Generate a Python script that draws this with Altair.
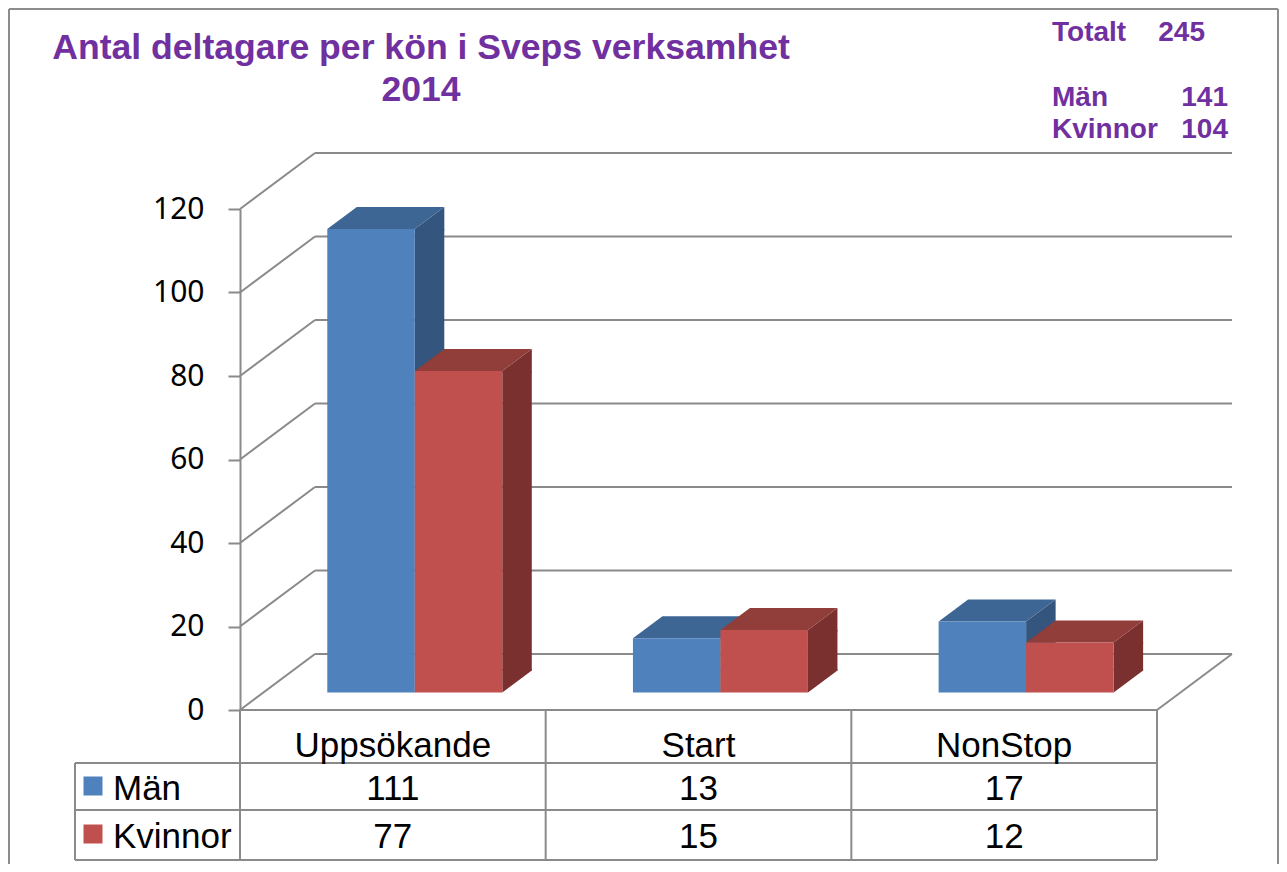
import altair as alt
import pandas as pd

# ---------------- data ----------------
categories = ["Uppsökande", "Start", "NonStop"]
series = ["Män", "Kvinnor"]
man_values = [111, 13, 17]
kvinnor_values = [77, 15, 12]
y_ticks = [0, 20, 40, 60, 80, 100, 120]
title_lines = ["Antal deltagare per kön i Sveps verksamhet", "2014"]
summary_labels = ["Totalt", "Män", "Kvinnor"]
summary_values = [245, 141, 104]

# ---------------- styles / layout ----------------
W, H = 917, 501
PAD_L, PAD_T = 232, 201
PAD_R = 1271 - PAD_L - W
PAD_B = 856 - PAD_T - H

FRONT = {"Män": "#4F81BD", "Kvinnor": "#C0504D"}
TOP = {"Män": "#3E6695", "Kvinnor": "#913D3A"}
SIDE = {"Män": "#33557E", "Kvinnor": "#7A302E"}
GRID = "#8a8a8a"
PURPLE = "#7030A0"

BAR_W = 87.5
BAR_DY = -17.5                     # bars sit inside the depth
DEPTH_X, DEPTH_Y = 29.5, -22       # bar depth (3D)
WALL_X, WALL_Y = 75, -56           # back wall offset
HALF = BAR_W / 2
CENTER_OFF = {"Män": -21.8, "Kvinnor": -21.8 + BAR_W}   # bar centre vs band centre

rows = []
for c, m, k in zip(categories, man_values, kvinnor_values):
    rows.append({"cat": c, "ser": "Män", "value": m, "zero": 0})
    rows.append({"cat": c, "ser": "Kvinnor", "value": k, "zero": 0})
df = pd.DataFrame(rows)
ticks_df = pd.DataFrame({"v": y_ticks})
zero_df = pd.DataFrame({"v": [0]})
one = alt.Data(values=[{}])

x_scale = alt.Scale(type="band", domain=categories, paddingInner=0, paddingOuter=0)
y_scale = alt.Scale(domain=[0, 120], nice=False, zero=True)
y_axis = alt.Axis(values=y_ticks, title=None, grid=False,
                  domainColor=GRID, domainWidth=2, tickColor=GRID, tickWidth=2,
                  tickSize=12, labelPadding=24, labelFont="Noto Sans",
                  labelFontSize=30, labelColor="#000000")

X = alt.X("cat:N", scale=x_scale, axis=None)


def Yv(field):
    return alt.Y(field, scale=y_scale, axis=y_axis, stack=None)


def hline(x1, x2, y, w=2, color=GRID):
    return alt.Chart(one).mark_rule(color=color, strokeWidth=w).encode(
        x=alt.value(x1), x2=alt.value(x2), y=alt.value(y))


def vline(x, y1, y2, w=2, color=GRID):
    return alt.Chart(one).mark_rule(color=color, strokeWidth=w).encode(
        x=alt.value(x), y=alt.value(y1), y2=alt.value(y2))


def sdata(s):
    return alt.Chart(df).transform_filter(alt.datum.ser == s)


layers = []

# back wall gridlines
layers.append(alt.Chart(ticks_df).mark_rule(color=GRID, strokeWidth=2, yOffset=WALL_Y).encode(
    x=alt.value(WALL_X), x2=alt.value(W + WALL_X), y=Yv("v:Q")))
# side wall diagonals
layers.append(alt.Chart(ticks_df).mark_rule(color=GRID, strokeWidth=2, y2Offset=WALL_Y).encode(
    x=alt.value(0), x2=alt.value(WALL_X), y=Yv("v:Q"), y2=alt.Y2("v")))
# floor right edge
layers.append(alt.Chart(zero_df).mark_rule(color=GRID, strokeWidth=2, y2Offset=WALL_Y).encode(
    x=alt.value(W), x2=alt.value(W + WALL_X), y=Yv("v:Q"), y2=alt.Y2("v")))

# fixed-size 3D caps (shapes in px, size=4 -> unit scale)
bottom_tri = (f"M{HALF},{DEPTH_Y - 1.5}L{HALF},0L{HALF + DEPTH_X},{DEPTH_Y}"
              f"L{HALF + DEPTH_X},{DEPTH_Y - 1.5}Z")
top_tri = f"M{HALF},1.5L{HALF},0L{HALF + DEPTH_X},{DEPTH_Y}L{HALF + DEPTH_X},1.5Z"
top_face = f"M{-HALF},0L{HALF},0L{HALF + DEPTH_X},{DEPTH_Y}L{-HALF + DEPTH_X},{DEPTH_Y}Z"

# 3D bars: side faces
for s in series:
    co = CENTER_OFF[s]
    layers.append(sdata(s).mark_bar(width=DEPTH_X, xOffset=co + HALF + DEPTH_X / 2,
                                    yOffset=BAR_DY, y2Offset=BAR_DY + DEPTH_Y,
                                    color=SIDE[s]).encode(
        x=X, y=Yv("value:Q"), y2=alt.Y2("zero")))
    layers.append(sdata(s).mark_point(shape=bottom_tri, size=4, filled=True, opacity=1,
                                      strokeWidth=0, xOffset=co, yOffset=BAR_DY,
                                      color=SIDE[s]).encode(
        x=X, y=Yv("zero:Q")))
    layers.append(sdata(s).mark_point(shape=top_tri, size=4, filled=True, opacity=1,
                                      strokeWidth=0, xOffset=co, yOffset=BAR_DY,
                                      color=SIDE[s]).encode(
        x=X, y=Yv("value:Q")))
# top faces
for s in series:
    co = CENTER_OFF[s]
    layers.append(sdata(s).mark_point(shape=top_face, size=4, filled=True, opacity=1,
                                      strokeWidth=0.6, xOffset=co, yOffset=BAR_DY,
                                      color=TOP[s]).encode(
        x=X, y=Yv("value:Q")))
# front faces
for s in series:
    co = CENTER_OFF[s]
    layers.append(sdata(s).mark_bar(width=BAR_W, xOffset=co, yOffset=BAR_DY,
                                    y2Offset=BAR_DY, color=FRONT[s]).encode(
        x=X, y=Yv("value:Q"), y2=alt.Y2("zero")))

# floor front edge / table top
layers.append(hline(0, W, H))

# data table grid
ROW1, ROW2, ROW3 = 554, 601, 651
band = W / 3
for i in range(4):
    layers.append(vline(i * band, H, ROW3))
layers.append(vline(-165, ROW1, ROW3))
for yy in (ROW1, ROW2, ROW3):
    layers.append(hline(-165, W, yy))

TABLE_FONT = "Liberation Sans"
# category labels
cat_df = pd.DataFrame({"cat": categories})
layers.append(alt.Chart(cat_df).mark_text(font=TABLE_FONT, fontSize=35, color="#000000",
                                          baseline="alphabetic").encode(
    x=X, y=alt.value(548), text="cat:N"))
# values and row labels
row_base = {"Män": 591, "Kvinnor": 639}
for s in series:
    layers.append(sdata(s).mark_text(
        font=TABLE_FONT, fontSize=35, color="#000000", baseline="alphabetic").encode(
        x=X, y=alt.value(row_base[s]), text="value:Q"))
    layers.append(alt.Chart(one).mark_text(font=TABLE_FONT, fontSize=35, color="#000000",
                                           align="left", baseline="alphabetic").encode(
        x=alt.value(-127), y=alt.value(row_base[s]), text=alt.value(s)))
    layers.append(alt.Chart(one).mark_square(size=361, filled=True, opacity=1,
                                             color=FRONT[s]).encode(
        x=alt.value(-147), y=alt.value(row_base[s] - 14)))

# title
for line, yy in zip(title_lines, (-150, -108)):
    layers.append(alt.Chart(one).mark_text(font=TABLE_FONT, fontSize=35.6, fontWeight="bold",
                                           color=PURPLE, baseline="alphabetic").encode(
        x=alt.value(181), y=alt.value(yy), text=alt.value(line)))

# summary box top-right
sum_y = [-168, -103, -71]
sum_right = [965, 988, 988]
for lab, val, yy, xr in zip(summary_labels, summary_values, sum_y, sum_right):
    layers.append(alt.Chart(one).mark_text(font=TABLE_FONT, fontSize=28, fontWeight="bold",
                                           color=PURPLE, align="left", baseline="alphabetic").encode(
        x=alt.value(812), y=alt.value(yy), text=alt.value(lab)))
    layers.append(alt.Chart(one).mark_text(font=TABLE_FONT, fontSize=28, fontWeight="bold",
                                           color=PURPLE, align="right", baseline="alphabetic").encode(
        x=alt.value(xr), y=alt.value(yy), text=alt.value(str(val))))

# outer frame
layers.append(hline(-231, 1038, -200, w=2, color="#8c8c8c"))
layers.append(vline(-231, -200, 655, w=2, color="#8c8c8c"))
layers.append(vline(1038, -200, 655, w=2, color="#8c8c8c"))

chart = alt.layer(*layers).properties(
    width=W, height=H,
    padding={"left": PAD_L, "top": PAD_T, "right": PAD_R, "bottom": PAD_B},
    autosize=alt.AutoSizeParams(type="none"),
    background="white",
).configure_view(stroke=None)

chart.save("out.html", embed_options={"renderer": "svg", "actions": False})
